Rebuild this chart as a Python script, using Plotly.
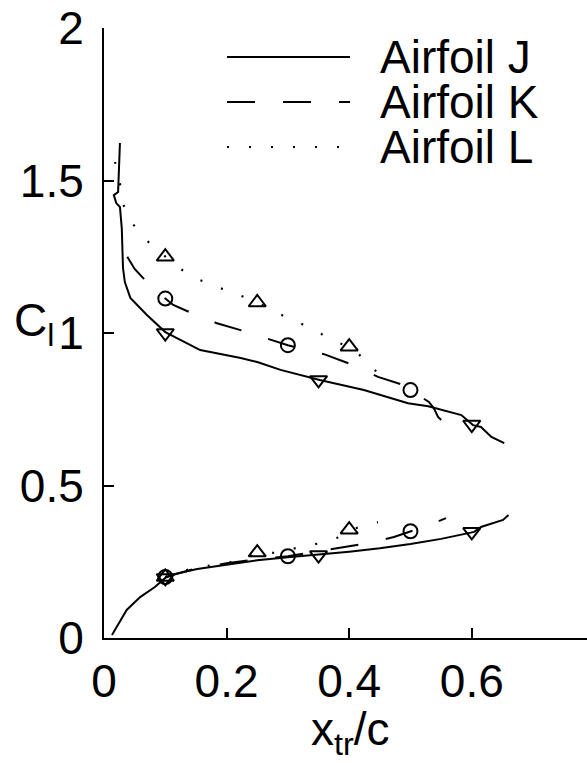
import plotly.graph_objects as go

# ---------------- data ----------------
# Airfoil J (solid) upper branch
J_up_x = [0.026, 0.023, 0.016, 0.020, 0.026, 0.029, 0.031, 0.034, 0.043, 0.070, 0.100, 0.157, 0.223, 0.250,
          0.288, 0.352, 0.424, 0.496, 0.529, 0.561, 0.583, 0.602, 0.615, 0.632, 0.653]
J_up_y = [1.623, 1.462, 1.452, 1.426, 1.413, 1.344, 1.213, 1.167, 1.115, 1.059, 1.003, 0.944, 0.918, 0.905,
          0.879, 0.846, 0.813, 0.770, 0.760, 0.744, 0.731, 0.698, 0.692, 0.659, 0.639]
# Airfoil J lower branch
J_lo_x = [0.013, 0.037, 0.059, 0.083, 0.100, 0.116, 0.152, 0.200, 0.250, 0.300, 0.350, 0.400, 0.450,
          0.500, 0.550, 0.604, 0.615, 0.651, 0.660]
J_lo_y = [0.010, 0.092, 0.134, 0.167, 0.197, 0.210, 0.226, 0.240, 0.255, 0.265, 0.273, 0.283, 0.294,
          0.308, 0.325, 0.348, 0.364, 0.387, 0.403]

# Airfoil K (dashed)
K_up_x = [0.038, 0.050, 0.064, 0.080, 0.100, 0.113, 0.139, 0.183, 0.227, 0.270, 0.300, 0.360, 0.400,
          0.447, 0.488, 0.500, 0.530, 0.538, 0.545, 0.555]
K_up_y = [1.250, 1.210, 1.180, 1.145, 1.113, 1.092, 1.069, 1.033, 1.007, 0.980, 0.960, 0.930, 0.900,
          0.856, 0.830, 0.813, 0.774, 0.754, 0.725, 0.705]
K_lo_x = [0.100, 0.150, 0.200, 0.250, 0.300, 0.370, 0.430, 0.473, 0.500, 0.522, 0.558]
K_lo_y = [0.200, 0.228, 0.245, 0.258, 0.268, 0.290, 0.311, 0.331, 0.348, 0.364, 0.393]

# Airfoil L (dotted)
L_up_x = [0.018, 0.026, 0.031, 0.046, 0.067, 0.100, 0.120, 0.149, 0.180, 0.214, 0.250, 0.277, 0.309,
          0.340, 0.370, 0.400, 0.429, 0.452]
L_up_y = [1.561, 1.490, 1.423, 1.360, 1.308, 1.250, 1.216, 1.180, 1.154, 1.130, 1.100, 1.072, 1.040,
          1.016, 0.977, 0.955, 0.908, 0.856]
L_lo_x = [0.100, 0.146, 0.180, 0.210, 0.250, 0.280, 0.320, 0.350, 0.383, 0.400, 0.425, 0.447]
L_lo_y = [0.200, 0.230, 0.240, 0.250, 0.275, 0.280, 0.298, 0.310, 0.330, 0.352, 0.370, 0.380]

# symbols
J_mk_x = [0.10, 0.35, 0.60, 0.10, 0.35, 0.60]
J_mk_y = [1.000, 0.846, 0.700, 0.197, 0.272, 0.348]
K_mk_x = [0.10, 0.30, 0.50, 0.10, 0.30, 0.50]
K_mk_y = [1.113, 0.960, 0.813, 0.200, 0.268, 0.350]
L_mk_x = [0.10, 0.25, 0.40, 0.10, 0.25, 0.40]
L_mk_y = [1.250, 1.100, 0.955, 0.200, 0.280, 0.355]

series_names = ["Airfoil J", "Airfoil K", "Airfoil L"]
x_ticks = [0, 0.2, 0.4, 0.6]
y_ticks = [0, 0.5, 1, 1.5, 2]

# ---------------- figure ----------------
FONT = "Liberation Sans, Arial, Helvetica, sans-serif"
W, H = 587, 763
ML, MR, MT, MB = 104, 0, 28, 125
dashes = ["solid", "28px,28px", "2px,20px"]

fig = go.Figure()
lines = [(J_up_x, J_up_y, J_lo_x, J_lo_y), (K_up_x, K_up_y, K_lo_x, K_lo_y), (L_up_x, L_up_y, L_lo_x, L_lo_y)]
for (ux, uy, lx, ly), d in zip(lines, dashes):
    lw = 2 if d != "2px,20px" else 2.2
    for xs, ys in ((ux, uy), (lx, ly)):
        fig.add_trace(go.Scatter(x=xs, y=ys, mode="lines", line=dict(color="black", width=lw, dash=d),
                                 showlegend=False, hoverinfo="skip"))

for xs, ys, sym, sz in ((J_mk_x, J_mk_y, "triangle-down-open", 15),
                        (K_mk_x, K_mk_y, "circle-open", 14),
                        (L_mk_x, L_mk_y, "triangle-up-open", 15)):
    fig.add_trace(go.Scatter(x=xs, y=ys, mode="markers",
                             marker=dict(symbol=sym, size=sz, color="black", line=dict(color="black", width=2)),
                             showlegend=False, hoverinfo="skip"))

pw = W - ML - MR
ph = H - MT - MB


def px2paper(px, py):
    return (px - ML) / pw, (H - MB - py) / ph


# manual legend
leg_y = [57, 102, 147]
for name, d, yy in zip(series_names, dashes, leg_y):
    x0, y0 = px2paper(227, yy)
    x1, _ = px2paper(350, yy)
    fig.add_shape(type="line", xref="paper", yref="paper", x0=x0, x1=x1, y0=y0, y1=y0,
                  line=dict(color="black", width=2, dash=d))
    tx, ty = px2paper(378, yy)
    fig.add_annotation(text=name, xref="paper", yref="paper", x=tx, y=ty, xanchor="left", yanchor="middle",
                       showarrow=False, font=dict(family=FONT, size=46, color="black"))

# y axis title
cx, cy = px2paper(34, 323)
fig.add_annotation(text="C<sub>l</sub>", xref="paper", yref="paper", x=cx, y=cy, xanchor="center",
                   yanchor="middle", showarrow=False, font=dict(family=FONT, size=46, color="black"))

# x axis title (centred on the full 0-0.8 axis)
tx, ty = px2paper(350, 732)
fig.add_annotation(text="x<sub>tr</sub>/c", xref="paper", yref="paper", x=tx, y=ty, xanchor="center",
                   yanchor="middle", showarrow=False, font=dict(family=FONT, size=46, color="black"))

fig.update_layout(
    width=W, height=H,
    margin=dict(l=ML, r=MR, t=MT, b=MB, pad=0),
    paper_bgcolor="white", plot_bgcolor="white",
    font=dict(family=FONT, size=46, color="black"),
    showlegend=False,
    xaxis=dict(range=[0, 0.788], tickvals=x_ticks, ticktext=["0", "0.2", "0.4", "0.6"],
               ticks="inside", ticklen=10, tickwidth=2, tickcolor="black",
               showline=True, linecolor="black", linewidth=2, showgrid=False, zeroline=False,
               ticklabelstandoff=2),
    yaxis=dict(range=[0, 2], tickvals=y_ticks, ticktext=["0", "0.5", "1", "1.5", "2"],
               ticks="inside", ticklen=10, tickwidth=2, tickcolor="black",
               showline=True, linecolor="black", linewidth=2, showgrid=False, zeroline=False,
               ticklabelstandoff=9),
)

fig.write_html("out.html")
